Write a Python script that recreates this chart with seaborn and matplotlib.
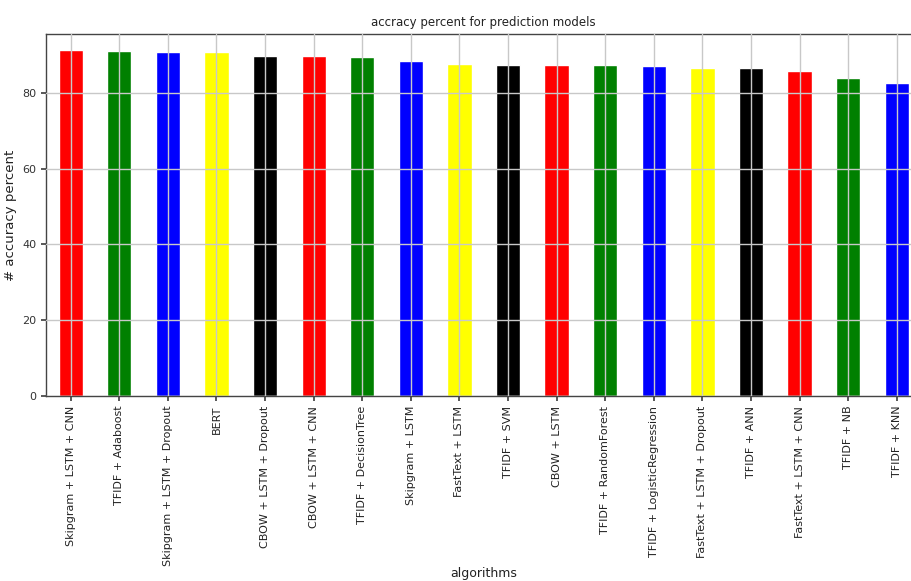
import matplotlib
matplotlib.use("Agg")
import matplotlib.pyplot as plt
import seaborn as sns
import pandas as pd

algorithms = [
    "Skipgram + LSTM + CNN", "TFIDF + Adaboost", "Skipgram + LSTM + Dropout", "BERT",
    "CBOW + LSTM + Dropout", "CBOW + LSTM + CNN", "TFIDF + DecisionTree", "Skipgram + LSTM",
    "FastText + LSTM", "TFIDF + SVM", "CBOW + LSTM", "TFIDF + RandomForest",
    "TFIDF + LogisticRegression", "FastText + LSTM + Dropout", "TFIDF + ANN",
    "FastText + LSTM + CNN", "TFIDF + NB", "TFIDF + KNN",
]
accuracy = [91.3, 91.0, 90.8, 90.7, 89.6, 89.6, 89.3, 88.4, 87.5,
            87.3, 87.2, 87.2, 87.0, 86.6, 86.4, 85.8, 83.9, 82.6]
color_cycle = ["red", "green", "blue", "yellow", "black"]
bar_colors = [color_cycle[i % len(color_cycle)] for i in range(len(algorithms))]

df = pd.DataFrame({"algorithms": algorithms, "accuracy": accuracy})

sns.set_theme(style="white")
plt.rcParams["font.family"] = ["DejaVu Sans"]

fig = plt.figure(figsize=(9.12, 5.81), dpi=100)
ax = fig.add_axes([0.0509, 0.3184, 0.959, 0.6231])

sns.barplot(data=df, x="algorithms", y="accuracy", hue="algorithms",
            palette=bar_colors, legend=False, width=0.5, saturation=1,
            ax=ax, zorder=1)

ax.set_xlim(-0.5, len(algorithms) - 0.5)
ax.set_ylim(0, 95.5)
ax.set_yticks([0, 20, 40, 60, 80])
ax.grid(True, color="#c8c8c8", linewidth=1.0)
ax.set_axisbelow(False)
for s in ax.spines.values():
    s.set_color("#444444")
    s.set_linewidth(1.0)
ax.spines["right"].set_visible(False)

ax.tick_params(axis="x", labelrotation=90, labelsize=8, length=3.5, color="#444444",
               bottom=True, labelcolor="#222222")
ax.tick_params(axis="y", labelsize=8, length=3.5, color="#444444", left=True,
               labelcolor="#333333")
ax.set_title("accracy percent for prediction models", fontsize=8.5, color="#222222")
ax.set_ylabel("# accuracy percent", fontsize=9.5, color="#222222")
ax.set_xlabel("algorithms", fontsize=9, color="#222222", va="center")
ax.xaxis.set_label_coords(0.5, -0.489)

fig.savefig("out.png", dpi=100)
